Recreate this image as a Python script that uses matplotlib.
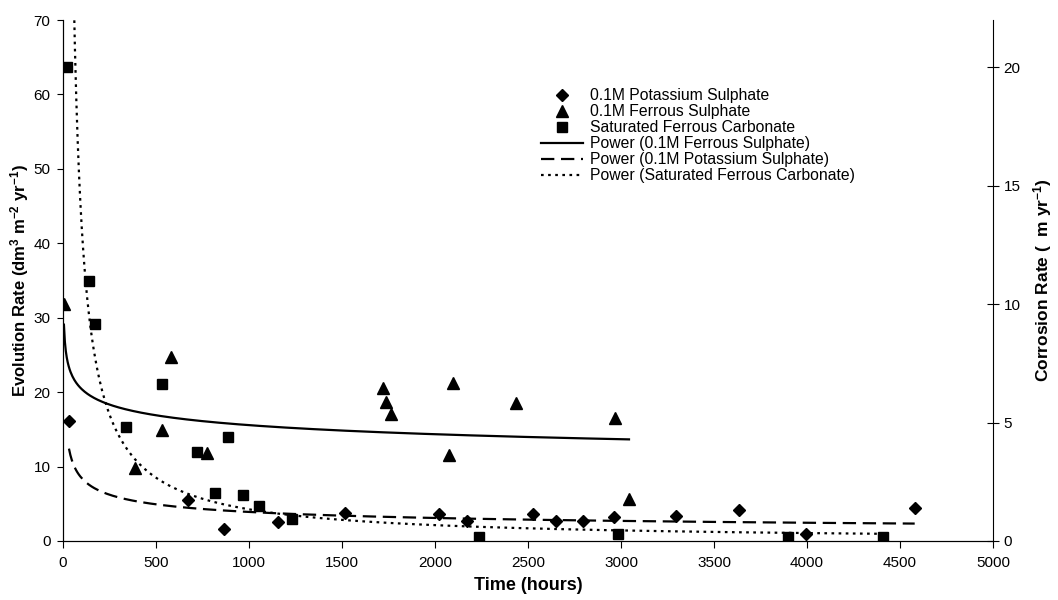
import numpy as np
import matplotlib
matplotlib.use("Agg")
import matplotlib.pyplot as plt

plt.rcParams['font.family'] = ['Liberation Sans', 'DejaVu Sans']
plt.rcParams['mathtext.default'] = 'regular'

# 0.1M Potassium Sulphate (diamonds)
k_time = [32, 670, 866, 1154, 1516, 2020, 2170, 2525, 2651, 2794, 2962, 3296, 3633, 3995, 4579]
k_rate = [16.1, 5.5, 1.6, 2.6, 3.7, 3.6, 2.7, 3.6, 2.7, 2.7, 3.2, 3.3, 4.1, 0.9, 4.5]

# 0.1M Ferrous Sulphate (triangles)
fe_time = [5, 389, 534, 581, 772, 1719, 1737, 1762, 2075, 2099, 2435, 2968, 3043]
fe_rate = [31.9, 9.8, 14.9, 24.7, 11.8, 20.5, 18.7, 17.0, 11.6, 21.2, 18.6, 16.5, 5.6]

# Saturated Ferrous Carbonate (squares)
c_time = [20, 141, 172, 339, 532, 722, 817, 887, 968, 1055, 1229, 2237, 2986, 3898, 4407]
c_rate = [63.7, 35.0, 29.1, 15.3, 21.1, 12.0, 6.4, 14.0, 6.2, 4.7, 2.9, 0.6, 1.0, 0.6, 0.6]


def power_fit(x, y):
    x = np.array(x, dtype=float)
    y = np.array(y, dtype=float)
    b, lna = np.polyfit(np.log(x), np.log(y), 1)
    xs = np.linspace(x.min(), x.max(), 600)
    return xs, np.exp(lna) * xs ** b


fig = plt.figure(figsize=(10.58, 6), dpi=100)
ax = fig.add_axes([63 / 1058, 1 - 541 / 600, 930 / 1058, 521 / 600])

ax.plot(k_time, k_rate, 'D', color='black', ms=6.5, label='0.1M Potassium Sulphate')
ax.plot(fe_time, fe_rate, '^', color='black', ms=8, label='0.1M Ferrous Sulphate')
ax.plot(c_time, c_rate, 's', color='black', ms=7.5, label='Saturated Ferrous Carbonate')

xs, ys = power_fit(fe_time, fe_rate)
ax.plot(xs, ys, '-', color='black', lw=1.6, label='Power (0.1M Ferrous Sulphate)')
xs, ys = power_fit(k_time, k_rate)
ax.plot(xs, ys, '--', color='black', lw=1.6, dashes=(6, 3), label='Power (0.1M Potassium Sulphate)')
xs, ys = power_fit(c_time, c_rate)
ax.plot(xs, ys, ':', color='black', lw=1.6, dashes=(1.2, 2), label='Power (Saturated Ferrous Carbonate)')

ax.set_xlim(0, 5000)
ax.set_ylim(0, 70)
ax.set_xticks(range(0, 5001, 500))
ax.set_yticks(range(0, 71, 10))
ax.spines['top'].set_visible(False)
ax.spines['right'].set_visible(False)
ax.tick_params(axis='both', labelsize=11, direction='out', length=4, width=0.8)
ax.tick_params(axis='x', length=5, pad=6)
ax.tick_params(axis='y', pad=5)
ax.set_xlabel('Time (hours)', fontsize=13, fontweight='bold', labelpad=5)
ax.set_ylabel('Evolution Rate (dm$^{3}$ m$^{-2}$ yr$^{-1}$)', fontsize=12, fontweight='bold', labelpad=2)

ax2 = ax.twinx()
ax2.set_ylim(0, 22)
ax2.set_yticks(range(0, 21, 5))
ax2.spines['top'].set_visible(False)
ax2.tick_params(axis='y', labelsize=11, direction='inout', length=8, width=0.8)
ax2.set_ylabel('Corrosion Rate (  m yr$^{-1}$)', fontsize=12.5, fontweight='bold', labelpad=8)

ax.legend(loc='upper left', bbox_to_anchor=(541 / 1058, 1 - 88 / 600), bbox_transform=fig.transFigure,
          frameon=False, fontsize=11.3, handlelength=2.7, handletextpad=0.45, labelspacing=0.07,
          borderpad=0, borderaxespad=0)

fig.savefig('out.png', dpi=100)
